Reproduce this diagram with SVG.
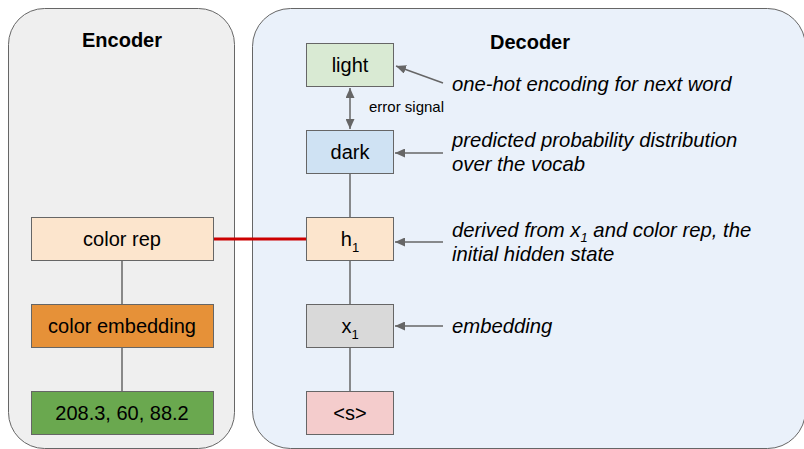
<svg xmlns="http://www.w3.org/2000/svg" width="804" height="449" viewBox="0 0 804 449">
  <style>
    .panel { stroke: #666666; stroke-width: 1; }
    .box { stroke: #666666; stroke-width: 1; }
    .lbl { font-family: "Liberation Sans", Arial, sans-serif; font-size: 20px; fill: #000000; text-anchor: middle; }
    .title { font-family: "Liberation Sans", Arial, sans-serif; font-size: 20px; font-weight: bold; fill: #000000; text-anchor: middle; }
    .note { font-family: "Liberation Sans", Arial, sans-serif; font-size: 20.3px; font-style: italic; fill: #000000; }
    .small { font-family: "Liberation Sans", Arial, sans-serif; font-size: 15px; fill: #000000; }
    .conn { stroke: #666666; stroke-width: 1.5; fill: none; }
    .arr { stroke: #666666; stroke-width: 1.5; fill: none; marker-end: url(#ah); }
  </style>
  <defs>
    <marker id="ah" markerUnits="userSpaceOnUse" markerWidth="11" markerHeight="9" refX="10" refY="4.5" orient="auto-start-reverse">
      <path d="M0,0 L10,4.5 L0,9 z" fill="#666666"/>
    </marker>
  </defs>

  <g id="encoder-panel">
    <rect class="panel" x="8.5" y="8.5" width="226" height="440" rx="36" ry="36" fill="#efefef"/>
    <text class="title" x="122" y="47">Encoder</text>
  </g>
  <g id="decoder-panel">
    <rect class="panel" x="252.5" y="8.5" width="553" height="440" rx="38" ry="38" fill="#eaf1fa"/>
    <text class="title" x="530" y="49">Decoder</text>
  </g>

  <g id="connectors">
    <line class="conn" x1="122" y1="261" x2="122" y2="304"/>
    <line class="conn" x1="122" y1="348" x2="122" y2="392"/>
    <line class="conn" x1="350" y1="174" x2="350" y2="217"/>
    <line class="conn" x1="350" y1="261" x2="350" y2="304"/>
    <line class="conn" x1="350" y1="348" x2="350" y2="392"/>
    <line x1="213" y1="239" x2="306" y2="239" stroke="#cc0000" stroke-width="3"/>
    <line class="conn" x1="350" y1="88" x2="350" y2="129" marker-start="url(#ah)" marker-end="url(#ah)"/>
    <line class="arr" x1="443" y1="83" x2="396" y2="66"/>
    <line class="arr" x1="443" y1="153" x2="395" y2="153"/>
    <line class="arr" x1="443" y1="242" x2="395" y2="242"/>
    <line class="arr" x1="443" y1="326" x2="395" y2="326"/>
  </g>

  <g id="color-rep">
    <rect class="box" x="31.5" y="217.5" width="182" height="43" fill="#fce5cd"/>
    <text class="lbl" x="122" y="246">color rep</text>
  </g>
  <g id="color-embedding">
    <rect class="box" x="31.5" y="304.5" width="182" height="43" fill="#e69138"/>
    <text class="lbl" x="122" y="333">color embedding</text>
  </g>
  <g id="color-input">
    <rect class="box" x="31.5" y="391.5" width="182" height="43" fill="#6aa84f"/>
    <text class="lbl" x="122" y="420">208.3, 60, 88.2</text>
  </g>

  <g id="light">
    <rect class="box" x="306.5" y="43.5" width="87" height="43" fill="#d9ead3"/>
    <text class="lbl" x="350" y="72">light</text>
  </g>
  <g id="dark">
    <rect class="box" x="306.5" y="130.5" width="87" height="43" fill="#cfe2f3"/>
    <text class="lbl" x="350" y="159">dark</text>
  </g>
  <g id="h1">
    <rect class="box" x="306.5" y="217.5" width="87" height="43" fill="#fce5cd"/>
    <text class="lbl" x="350" y="246">h<tspan font-size="13" dy="6">1</tspan></text>
  </g>
  <g id="x1">
    <rect class="box" x="306.5" y="304.5" width="87" height="43" fill="#d9d9d9"/>
    <text class="lbl" x="350" y="333">x<tspan font-size="13" dy="6">1</tspan></text>
  </g>
  <g id="start">
    <rect class="box" x="306.5" y="391.5" width="87" height="43" fill="#f4cccc"/>
    <text class="lbl" x="350" y="420">&lt;s&gt;</text>
  </g>

  <g id="annotations">
    <text class="small" x="369" y="112">error signal</text>
    <text class="note" x="452" y="91">one-hot encoding for next word</text>
    <text class="note" x="452" y="147">predicted probability distribution</text>
    <text class="note" x="452" y="171">over the vocab</text>
    <text class="note" x="452" y="237">derived from x<tspan font-size="13" dy="5">1</tspan><tspan dy="-5"> and color rep, the</tspan></text>
    <text class="note" x="452" y="261">initial hidden state</text>
    <text class="note" x="452" y="333">embedding</text>
  </g>
</svg>
